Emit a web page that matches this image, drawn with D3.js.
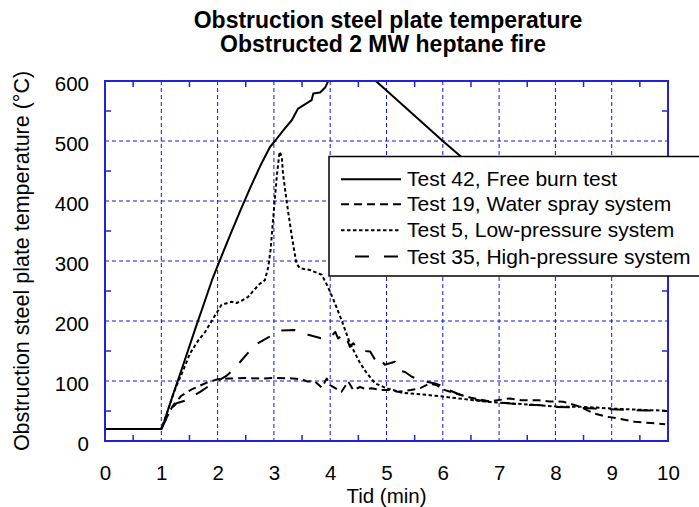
<!DOCTYPE html>
<html>
<head>
<meta charset="utf-8">
<script src="https://cdn.jsdelivr.net/npm/d3@7/dist/d3.min.js"></script>
<style>
  html, body { margin: 0; padding: 0; background: #fff; }
  svg { display: block; }
  text { font-family: "Liberation Sans", Arial, Helvetica, sans-serif; fill: #000; }
</style>
</head>
<body>
<svg id="chart" width="699" height="507"></svg>
<script>
// Time (min) and obstruction plate temperature (°C) for each test
const test42 = [ // free burn
  [0,20],[1.0,20],[1.05,32],[1.2,75],[1.4,130],[1.6,186],[1.78,235],[1.9,268],[2.0,292],
  [2.2,338],[2.4,383],[2.575,421],[2.75,457],[2.93,490],[3.02,500],[3.17,518],[3.32,535],
  [3.43,554],[3.55,561],[3.67,568],[3.7,579],[3.82,581],[3.91,589],[3.95,597],[4.1,625],
  [4.3,645],[4.5,650],[4.7,625],[4.81,600],[5.0,584],[5.5,542],[6.0,500],[6.32,474],
  [6.6,450],[7.0,416]
];
const test19 = [ // water spray system
  [0,20],[1.0,20],[1.1,40],[1.2,58],[1.35,75],[1.54,86],[1.8,97],[2.0,103],[2.2,104],
  [2.5,105],[2.75,104],[3.0,105],[3.29,104.5],[3.49,103],[3.6,99],[3.73,99],[3.85,89],
  [3.94,104],[4.0,93],[4.09,88],[4.2,82],[4.32,99],[4.41,85],[4.53,90],[4.65,86],[4.73,88],
  [4.9,85],[5.06,85],[5.2,82],[5.43,85],[5.6,88],[5.77,96],[5.89,93],[6.0,86],[6.2,80],
  [6.5,72],[6.84,66],[7.19,71],[7.4,68],[7.7,68],[7.9,66],[8.14,65.5],[8.44,57],[8.68,46],
  [8.91,40.5],[9.15,37],[9.41,32],[9.7,30],[9.95,28]
];
const test5 = [ // low-pressure system
  [0,20],[1.0,20],[1.12,52],[1.24,85],[1.39,118],[1.51,146],[1.66,168],[1.78,182],[1.92,204],
  [2.07,227],[2.25,232],[2.34,230],[2.45,235],[2.54,240],[2.65,252],[2.75,262],[2.84,268],
  [2.9,290],[2.94,318],[3.0,385],[3.05,440],[3.1,482],[3.14,474],[3.16,447],[3.23,397],
  [3.32,340],[3.4,296],[3.46,288],[3.64,285],[3.85,277],[3.96,257],[4.06,235],[4.2,202],
  [4.35,163],[4.53,130],[4.65,113],[4.8,96],[5.0,88],[5.3,80],[5.71,77],[6.01,74],[6.54,68],
  [6.84,65],[7.0,64],[7.5,61],[8.08,57],[8.44,57],[8.67,56],[9.0,54],[9.5,52],[9.95,50.5],[10,50]
];
const test35 = [ // high-pressure system
  [0,20],[1.0,20],[1.12,43],[1.21,57],[1.27,63],[1.45,68],[1.6,77],[1.69,82],[1.85,92],
  [2.0,100],[2.15,108],[2.31,121],[2.43,135],[2.66,160],[2.87,171],[3.11,184],[3.37,185],
  [3.61,177],[3.85,171],[4.0,172],[4.09,182],[4.14,171],[4.26,179],[4.35,157],[4.41,163],
  [4.5,152],[4.6,150],[4.71,149],[4.8,135],[4.86,141],[4.97,127],[5.15,132],[5.2,118],
  [5.33,115],[5.45,107],[5.6,102],[5.71,99],[5.86,96],[5.95,93],[6.0,84],[6.1,85],[6.31,77],
  [6.42,74],[6.57,69],[6.8,66],[7.16,63],[7.43,60],[7.7,60],[7.93,57],[8.3,56],[8.7,54],
  [9.2,52],[9.6,51],[10,50]
];

const xTicks = [0,1,2,3,4,5,6,7,8,9,10];
const yTicks = [0,100,200,300,400,500,600];
const titleLines = ["Obstruction steel plate temperature", "Obstructed 2 MW heptane fire"];
const xLabel = "Tid (min)";
const yLabel = "Obstruction steel plate temperature (°C)";

const seriesInfo = [
  { name: "Test 42, Free burn test",        data: test42, dash: null },
  { name: "Test 19, Water spray system",    data: test19, dash: "8,5" },
  { name: "Test 5, Low-pressure system",    data: test5,  dash: "3.5,2.5" },
  { name: "Test 35, High-pressure system",  data: test35, dash: "14,13" }
];

const frameBlue = "#2222d8";
const gridBlue = "#1414e6";
const plot = { left: 105, right: 668, top: 81, bottom: 441 };

const svg = d3.select("#chart");
const x = d3.scaleLinear().domain([0, 10]).range([plot.left, plot.right]);
const y = d3.scaleLinear().domain([0, 600]).range([plot.bottom, plot.top]);

svg.append("defs").append("clipPath").attr("id", "plotClip")
  .append("rect")
  .attr("x", plot.left).attr("y", plot.top)
  .attr("width", plot.right - plot.left).attr("height", plot.bottom - plot.top);

// title
svg.append("text").attr("x", 388).attr("y", 28).attr("text-anchor", "middle")
  .style("font-size", "23px").style("font-weight", "bold").text(titleLines[0]);
svg.append("text").attr("x", 383).attr("y", 52).attr("text-anchor", "middle")
  .style("font-size", "23px").style("font-weight", "bold").text(titleLines[1]);

// dashed grid at the major ticks
const grid = svg.append("g").attr("stroke", gridBlue).attr("stroke-width", 1)
  .attr("stroke-dasharray", "4,3").attr("fill", "none");
grid.selectAll("line.gx").data(xTicks.slice(1, -1)).join("line")
  .attr("x1", d => x(d)).attr("x2", d => x(d)).attr("y1", plot.top).attr("y2", plot.bottom);
grid.selectAll("line.gy").data(yTicks.slice(1, -1)).join("line")
  .attr("y1", d => y(d)).attr("y2", d => y(d)).attr("x1", plot.left).attr("x2", plot.right);

// axes: labels from d3 axes, inner minor ticks drawn on all four sides
const xAxis = d3.axisBottom(x).tickValues(xTicks).tickSize(0).tickPadding(0).tickFormat(d3.format("d"));
const gx = svg.append("g").attr("transform", `translate(0,${plot.bottom})`).call(xAxis);
gx.select(".domain").remove();
gx.selectAll("text").attr("y", 39).attr("dy", 0).style("font-size", "20.5px").attr("fill", "#000");

const yAxis = d3.axisLeft(y).tickValues(yTicks).tickSize(0).tickPadding(0).tickFormat(d3.format("d"));
const gy = svg.append("g").attr("transform", `translate(${plot.left},0)`).call(yAxis);
gy.select(".domain").remove();
gy.selectAll("text").attr("x", -16).attr("dy", "0.45em").style("font-size", "20.5px").attr("fill", "#000");

const minorX = d3.range(0.5, 10, 1);
const minorY = d3.range(50, 600, 100);
const tickLen = 6;
const ticks = svg.append("g").attr("stroke", frameBlue).attr("stroke-width", 1.5);
minorX.forEach(v => {
  ticks.append("line").attr("x1", x(v)).attr("x2", x(v)).attr("y1", plot.bottom).attr("y2", plot.bottom - tickLen);
  ticks.append("line").attr("x1", x(v)).attr("x2", x(v)).attr("y1", plot.top).attr("y2", plot.top + tickLen);
});
minorY.forEach(v => {
  ticks.append("line").attr("y1", y(v)).attr("y2", y(v)).attr("x1", plot.left).attr("x2", plot.left + tickLen);
  ticks.append("line").attr("y1", y(v)).attr("y2", y(v)).attr("x1", plot.right).attr("x2", plot.right - tickLen);
});

// data curves
const line = d3.line().x(d => x(d[0])).y(d => y(d[1]));
const curves = svg.append("g").attr("clip-path", "url(#plotClip)");
seriesInfo.forEach(s => {
  curves.append("path").datum(s.data)
    .attr("d", line)
    .attr("fill", "none")
    .attr("stroke", "#000")
    .attr("stroke-width", 2)
    .attr("stroke-linejoin", "round")
    .attr("stroke-dasharray", s.dash);
});

// frame
svg.append("rect")
  .attr("x", plot.left).attr("y", plot.top)
  .attr("width", plot.right - plot.left).attr("height", plot.bottom - plot.top)
  .attr("fill", "none").attr("stroke", frameBlue).attr("stroke-width", 2);

// axis titles
svg.append("text").attr("x", x(5)).attr("y", 503).attr("text-anchor", "middle")
  .style("font-size", "20.5px").text(xLabel);
svg.append("text")
  .attr("transform", `translate(29,${(plot.top + plot.bottom) / 2}) rotate(-90)`)
  .attr("text-anchor", "middle").style("font-size", "21.5px").text(yLabel);

// legend
const legend = svg.append("g");
legend.append("rect").attr("x", 329).attr("y", 156.5).attr("width", 420).attr("height", 119.5)
  .attr("fill", "#fff").attr("stroke", "#000").attr("stroke-width", 1.5);
const rowY = [179.3, 204.3, 230.3, 256.6];
seriesInfo.forEach((s, i) => {
  const x0 = i === 3 ? 355 : 341;
  legend.append("line").attr("x1", x0).attr("x2", 401).attr("y1", rowY[i]).attr("y2", rowY[i])
    .attr("stroke", "#000").attr("stroke-width", 2).attr("stroke-dasharray", i === 3 ? "14,15" : s.dash);
  legend.append("text").attr("x", 407).attr("y", rowY[i] + 7).style("font-size", "21px").text(s.name);
});
</script>
</body>
</html>
